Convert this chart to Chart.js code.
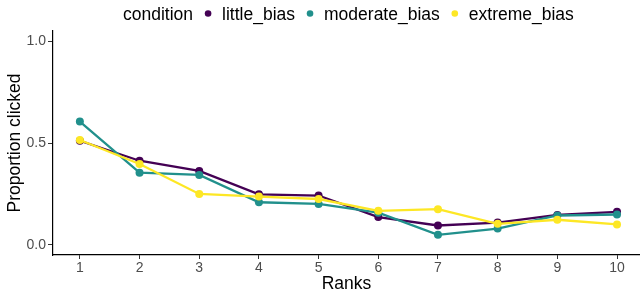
<!DOCTYPE html>
<html>
<head>
<meta charset="utf-8">
<script src="https://cdn.jsdelivr.net/npm/chart.js@4/dist/chart.umd.min.js"></script>
<style>
  html, body { margin: 0; padding: 0; background: #fff; }
  #wrap { width: 640px; height: 296px; }
</style>
</head>
<body>
<div id="wrap"><canvas id="chart" width="640" height="296"></canvas></div>
<script>
// Data
const ranks = [1, 2, 3, 4, 5, 6, 7, 8, 9, 10];
const littleBias = [0.511, 0.413, 0.363, 0.248, 0.242, 0.136, 0.095, 0.109, 0.147, 0.162];
const moderateBias = [0.605, 0.354, 0.343, 0.209, 0.201, 0.158, 0.049, 0.080, 0.144, 0.149];
const extremeBias = [0.515, 0.397, 0.250, 0.237, 0.225, 0.167, 0.175, 0.103, 0.123, 0.100];
const yTicks = [0, 0.5, 1];

const seriesNames = ['little_bias', 'moderate_bias', 'extreme_bias'];
const seriesColors = ['#440154', '#21908C', '#FDE725'];
const legendTitle = 'condition';

const FONT = '"Liberation Sans", Arial, Helvetica, sans-serif';

function toPoints(values) {
    return values.map((v, i) => ({ x: ranks[i], y: v }));
}

function makeDataset(name, values, color, order) {
    return {
        label: name,
        data: toPoints(values),
        borderColor: color,
        backgroundColor: color,
        borderWidth: 2.3,
        pointRadius: 4,
        pointBorderWidth: 0,
        pointBackgroundColor: color,
        tension: 0,
        order: order
    };
}

// Legend drawn ggplot style: title inline, then dot + label pairs
const inlineLegend = {
    id: 'inlineLegend',
    afterDraw(chart) {
        const ctx = chart.ctx;
        const xScale = chart.scales.x;
        ctx.save();
        ctx.font = '17.5px ' + FONT;
        ctx.textBaseline = 'alphabetic';
        ctx.textAlign = 'left';
        const gapAfterText = 15;
        const gapAfterDot = 14;
        let total = ctx.measureText(legendTitle).width + gapAfterText;
        seriesNames.forEach((n, i) => {
            total += gapAfterDot + ctx.measureText(n).width;
            if (i < seriesNames.length - 1) total += gapAfterText;
        });
        const center = xScale.getPixelForValue(5.5);
        let x = center - total / 2;
        const baseY = 19.5;
        const dotY = 13.5;
        ctx.fillStyle = '#000';
        ctx.fillText(legendTitle, x, baseY);
        x += ctx.measureText(legendTitle).width + gapAfterText;
        seriesNames.forEach((n, i) => {
            ctx.fillStyle = seriesColors[i];
            ctx.beginPath();
            ctx.arc(x, dotY, 3.3, 0, Math.PI * 2);
            ctx.fill();
            x += gapAfterDot;
            ctx.fillStyle = '#000';
            ctx.fillText(n, x, baseY);
            x += ctx.measureText(n).width + gapAfterText;
        });
        ctx.restore();
    }
};

const ctx = document.getElementById('chart').getContext('2d');
const chart = new Chart(ctx, {
    type: 'line',
    data: {
        datasets: [
            makeDataset(seriesNames[0], littleBias, seriesColors[0], 3),
            makeDataset(seriesNames[1], moderateBias, seriesColors[1], 2),
            makeDataset(seriesNames[2], extremeBias, seriesColors[2], 1)
        ]
    },
    options: {
        responsive: false,
        animation: false,
        layout: {
            autoPadding: false,
            padding: { top: 31, right: 0, bottom: 0, left: 0 }
        },
        plugins: {
            legend: { display: false },
            tooltip: { enabled: false }
        },
        scales: {
            x: {
                type: 'linear',
                min: 0.55,
                max: 10.385,
                afterBuildTicks: (scale) => {
                    scale.ticks = ranks.map(v => ({ value: v }));
                },
                afterFit: (scale) => {
                    scale.height = 41;
                    scale.paddingLeft = 0;
                    scale.paddingRight = 0;
                },
                grid: {
                    display: true,
                    drawOnChartArea: false,
                    drawTicks: true,
                    tickLength: 4,
                    color: '#333333',
                    lineWidth: 1
                },
                border: { display: true, color: '#000', width: 1.2 },
                ticks: {
                    color: '#4D4D4D',
                    font: { family: FONT, size: 14 },
                    padding: 1,
                    maxRotation: 0,
                    autoSkip: false,
                    callback: (v) => String(v)
                },
                title: {
                    display: true,
                    text: 'Ranks',
                    color: '#000',
                    font: { family: FONT, size: 17.5 },
                    padding: { top: 0, bottom: 1 }
                }
            },
            y: {
                type: 'linear',
                min: -0.05,
                max: 1.05,
                afterBuildTicks: (scale) => {
                    scale.ticks = yTicks.map(v => ({ value: v }));
                },
                afterFit: (scale) => {
                    scale.width = 53;
                    scale.paddingTop = 0;
                    scale.paddingBottom = 0;
                },
                grid: {
                    display: true,
                    drawOnChartArea: false,
                    drawTicks: true,
                    tickLength: 5,
                    color: '#333333',
                    lineWidth: 1
                },
                border: { display: true, color: '#000', width: 1.2 },
                ticks: {
                    color: '#4D4D4D',
                    font: { family: FONT, size: 14 },
                    padding: 2,
                    callback: (v) => Number(v).toFixed(1)
                },
                title: {
                    display: true,
                    text: 'Proportion clicked',
                    color: '#000',
                    font: { family: FONT, size: 17.5 },
                    padding: { top: 5, bottom: 0 }
                }
            }
        }
    },
    plugins: [inlineLegend]
});
</script>
</body>
</html>
